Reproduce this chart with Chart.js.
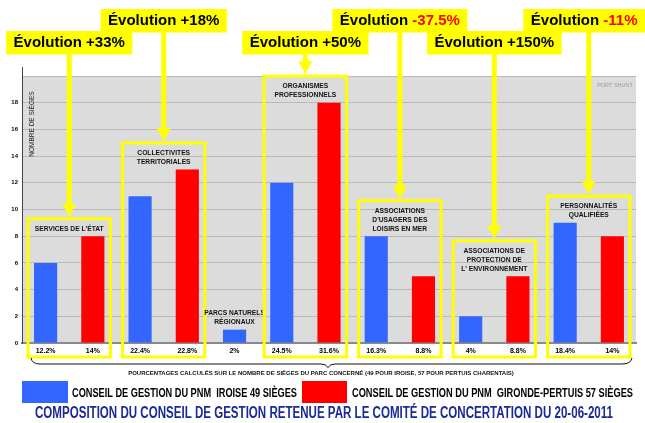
<!DOCTYPE html>
<html>
<head>
<meta charset="utf-8">
<script src="https://cdn.jsdelivr.net/npm/chart.js@4/dist/chart.umd.min.js"></script>
<style>
html,body{margin:0;padding:0;background:#fff;}
#wrap{width:645px;height:423px;position:relative;}
</style>
</head>
<body>
<div id="wrap"><canvas id="c"></canvas></div>
<script>
// ---- data ----
const pctLabels = ['12.2%','14%','22.4%','22.8%','2%','24.5%','31.6%','16.3%','8.8%','4%','8.8%','18.4%','14%'];
const iroiseSeats  = [6, null, 11, null, 1, 12, null, 8, null, 2, null, 9, null];
const girondeSeats = [null, 8, null, 13, null, null, 18, null, 5, null, 5, null, 8];
const groupNames = [
  ["SERVICES DE L'ÉTAT"],
  ['COLLECTIVITES','TERRITORIALES'],
  ['PARCS NATURELS','RÉGIONAUX'],
  ['ORGANISMES','PROFESSIONNELS'],
  ['ASSOCIATIONS',"D'USAGERS DES",'LOISIRS EN MER'],
  ['ASSOCIATIONS DE','PROTECTION DE',"L' ENVIRONNEMENT"],
  ['PERSONNALITÉS','QUALIFIÉES']
];
const groupSlots = [[0,1],[2,3],[4],[5,6],[7,8],[9,10],[11,12]];
const evolutions = ['+33%','+18%',null,'+50%','-37.5%','+150%','-11%'];
const yTicks = [0,2,4,6,8,10,12,14,16,18];
const seriesNames = ['CONSEIL DE GESTION DU PNM  IROISE 49 SIÈGES','CONSEIL DE GESTION DU PNM  GIRONDE-PERTUIS 57 SIÈGES'];
const yTitle = 'NOMBRE DE SIÈGES';
const noteText = 'POURCENTAGES CALCULÉS SUR LE NOMBRE DE SIÈGES DU PARC CONCERNÉ (49 POUR IROISE, 57 POUR PERTUIS CHARENTAIS)';
const chartTitle = 'COMPOSITION DU CONSEIL DE GESTION RETENUE PAR LE COMITÉ DE CONCERTATION DU 20-06-2011';
const cornerText = 'PORT SHUNT';

// ---- styles ----
const BLUE = '#3366ff', RED = '#ff0000', YEL = '#ffff00';
const calloutRow = [1,0,null,1,0,1,0];

const annot = {
  id: 'annot',
  beforeDraw(chart){
    const {ctx, chartArea:a} = chart;
    ctx.save();
    ctx.fillStyle = '#dcdcdc';
    ctx.fillRect(a.left, a.top, a.right-a.left, a.bottom-a.top);
    ctx.restore();
  },
  afterDraw(chart){
    const ctx = chart.ctx, a = chart.chartArea, W = chart.width;
    const m0 = chart.getDatasetMeta(0), m1 = chart.getDatasetMeta(1);
    const barAt = i => (iroiseSeats[i] != null ? m0.data[i] : m1.data[i]);
    ctx.save();
    // small axis extension above plot
    ctx.strokeStyle = '#444'; ctx.lineWidth = 1;
    ctx.beginPath(); ctx.moveTo(a.left + 0.5, a.top - 9); ctx.lineTo(a.left + 0.5, a.top); ctx.stroke();
    // axis title & corner text
    ctx.save();
    ctx.translate(32, 124);
    ctx.rotate(-Math.PI/2);
    ctx.font = '6.5px Arial';
    ctx.fillStyle = '#222';
    ctx.textAlign = 'center'; ctx.textBaseline = 'middle';
    ctx.fillText(yTitle, 0, 0);
    ctx.restore();
    ctx.font = '5.5px Arial'; ctx.fillStyle = '#9a9a9a';
    ctx.textAlign = 'center'; ctx.textBaseline = 'middle';
    ctx.fillText(cornerText, 615, 85);

    const boxBottom = a.bottom + 14;
    groupSlots.forEach((slots, g) => {
      const bars = slots.map(barAt);
      const left = Math.min(...bars.map(b => b.x - b.width/2));
      const right = Math.max(...bars.map(b => b.x + b.width/2));
      const topBar = Math.min(...bars.map(b => b.y));
      const cx = (left + right) / 2;
      const lines = groupNames[g];
      const lastY = topBar - 7.5;
      const firstY = lastY - (lines.length - 1) * 9;
      ctx.font = 'bold 6.7px Arial';
      ctx.fillStyle = '#111';
      ctx.textAlign = 'center'; ctx.textBaseline = 'middle';
      lines.forEach((t, k) => ctx.fillText(t, cx, firstY + k * 9));
      if (evolutions[g] == null) return;
      const boxTop = firstY - 10;
      ctx.strokeStyle = YEL; ctx.lineWidth = 3;
      ctx.strokeRect(left - 6, boxTop, right - left + 12, boxBottom - boxTop);
      // callout
      const row = calloutRow[g];
      const cy0 = row === 0 ? 9 : 31, ch = 23.5;
      ctx.font = 'bold 15px Arial';
      const p1 = 'Évolution ', p2 = evolutions[g];
      const w1 = ctx.measureText(p1).width, w2 = ctx.measureText(p2).width;
      const cw = w1 + w2 + 15;
      let cxl = cx - cw/2;
      if (cxl + cw > W) cxl = W - cw;
      // arrow
      ctx.fillStyle = YEL;
      ctx.fillRect(cx - 2.5, cy0 + ch - 1, 5, (boxTop - 14) - (cy0 + ch - 1) + 1);
      ctx.beginPath();
      ctx.moveTo(cx - 7, boxTop - 15);
      ctx.lineTo(cx + 7, boxTop - 15);
      ctx.lineTo(cx, boxTop - 2);
      ctx.closePath();
      ctx.fill();
      // callout box
      ctx.fillRect(cxl, cy0, cw, ch);
      const tx = cxl + (cw - w1 - w2) / 2;
      ctx.textAlign = 'left'; ctx.textBaseline = 'middle';
      ctx.fillStyle = '#000';
      ctx.fillText(p1, tx, cy0 + ch/2 + 0.5);
      ctx.fillStyle = p2.startsWith('-') ? RED : '#000';
      ctx.fillText(p2, tx + w1, cy0 + ch/2 + 0.5);
    });

    // brace
    ctx.strokeStyle = '#111'; ctx.lineWidth = 1;
    ctx.beginPath();
    ctx.moveTo(31, 358);
    ctx.quadraticCurveTo(32, 364, 40, 364);
    ctx.lineTo(321, 364);
    ctx.quadraticCurveTo(326, 364, 328, 367.5);
    ctx.quadraticCurveTo(330, 364, 335, 364);
    ctx.lineTo(622, 364);
    ctx.quadraticCurveTo(631, 364, 632, 358);
    ctx.stroke();
    ctx.font = 'bold 6px Arial';
    ctx.fillStyle = '#111';
    ctx.textAlign = 'center'; ctx.textBaseline = 'middle';
    ctx.fillText(noteText, 321, 373, 423);

    // legend
    ctx.fillStyle = BLUE; ctx.fillRect(22, 381, 46, 22);
    ctx.fillStyle = RED; ctx.fillRect(302, 381, 45, 22);
    ctx.font = 'bold 13px Arial';
    ctx.fillStyle = '#000';
    ctx.textAlign = 'left'; ctx.textBaseline = 'middle';
    ctx.fillText(seriesNames[0], 72, 393.5, 225);
    ctx.fillText(seriesNames[1], 352, 393.5, 281);

    // title
    ctx.font = 'bold 16px Arial';
    ctx.fillStyle = '#1a2a96';
    ctx.textAlign = 'center';
    ctx.fillText(chartTitle, 324, 413.5, 578);
    ctx.restore();
  }
};

new Chart(document.getElementById('c'), {
  type: 'bar',
  data: {
    labels: pctLabels,
    datasets: [
      { label: seriesNames[0], data: iroiseSeats, backgroundColor: BLUE },
      { label: seriesNames[1], data: girondeSeats, backgroundColor: RED }
    ]
  },
  options: {
    responsive: true,
    maintainAspectRatio: false,
    animation: false,
    skipNull: true,
    categoryPercentage: 1,
    barPercentage: 0.49,
    layout: { padding: { top: 76, right: 9, left: 0, bottom: 0 } },
    plugins: { legend: { display: false }, title: { display: false }, tooltip: { enabled: false } },
    scales: {
      x: {
        grid: { display: false, drawTicks: false },
        border: { display: true, color: '#8a8a8a', width: 2 },
        ticks: { autoSkip: false, maxRotation: 0, padding: 4, color: '#000', font: { family: 'Arial', size: 7, weight: 'bold' } },
        afterFit(s){ s.height = 80; }
      },
      y: {
        min: 0, max: 20,
        afterBuildTicks(s){ s.ticks = yTicks.concat([20]).map(v => ({ value: v })); },
        grid: { color: '#b9b9b9', lineWidth: 1, drawTicks: false },
        border: { display: true, color: '#444', width: 1 },
        ticks: { padding: 4, color: '#000', font: { family: 'Arial', size: 6, weight: 'bold' },
          callback: v => (yTicks.includes(v) ? String(v) : '') },
        afterFit(s){ s.width = 22; }
      }
    }
  },
  plugins: [annot]
});
</script>
</body>
</html>
